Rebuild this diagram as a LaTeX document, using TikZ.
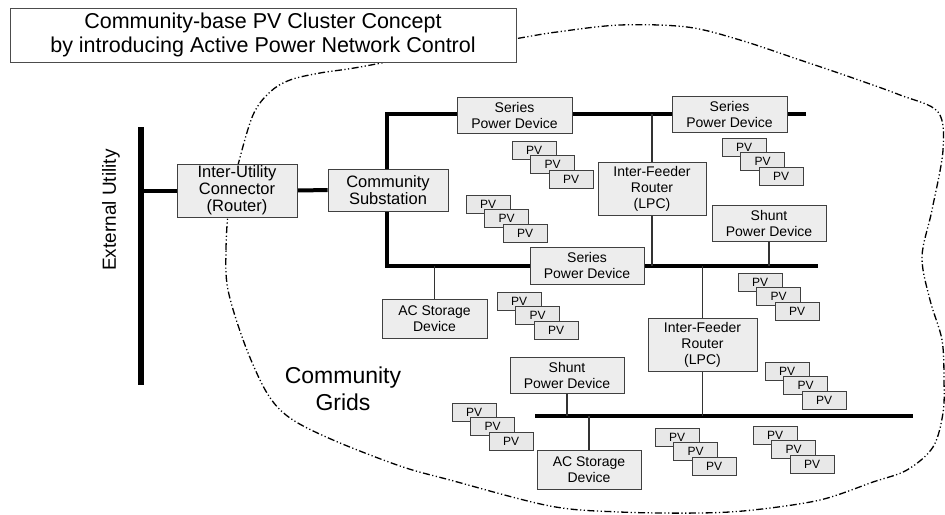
\documentclass[tikz,border=0pt]{standalone}
\usepackage{fontspec}
\setmainfont{Liberation Sans}
\usetikzlibrary{backgrounds}
\tikzstyle{dev}=[draw=black!75,fill=black!7,line width=0.9pt,align=center,inner sep=0pt,font=\fontsize{14}{16}\selectfont]
\tikzstyle{bigdev}=[dev,font=\fontsize{16.5}{17}\selectfont]
\tikzstyle{pv}=[draw=black!75,fill=black!9,line width=0.9pt,minimum width=44pt,minimum height=18pt,inner sep=0pt,font=\fontsize{12}{12}\selectfont]
\tikzstyle{bus}=[line width=4pt]
\tikzstyle{feeder}=[line width=1.1pt,black!80]
\tikzstyle{cloud}=[line width=1.3pt,dash pattern=on 7pt off 2.5pt on 1.2pt off 2.5pt on 1.2pt off 2.5pt]

\begin{document}
\begin{tikzpicture}[x=1pt,y=-1pt]
    \useasboundingbox (0,0) rectangle (945,514);
    \node[draw=black!70,fill=white,line width=0.8pt,minimum width=506pt,minimum height=54pt,align=center,font=\fontsize{21.5}{24}\selectfont] (title) at (263,35) {Community-base PV Cluster Concept\\by introducing Active Power Network Control};
    \node[rotate=90,font=\fontsize{19}{19}\selectfont] (ext) at (111,210) {External Utility};
    \node[align=center,font=\fontsize{23}{27}\selectfont] (grids) at (343,388.5) {Community\\Grids};

    \coordinate (extT) at (141,127);
    \coordinate (extB) at (141,385);
    \coordinate (busTL) at (387,114);
    \coordinate (busTR) at (806,114);
    \coordinate (busML) at (387,266);
    \coordinate (busMR) at (818,266);
    \coordinate (busLL) at (535,416);
    \coordinate (busLR) at (913,416);

    \node[bigdev,minimum width=120pt,minimum height=53pt] (iuc) at (237,190.5) {Inter-Utility\\Connector\\(Router)};
    \node[bigdev,minimum width=120pt,minimum height=42pt] (sub) at (388,190) {Community\\Substation};
    \node[dev,minimum width=115pt,minimum height=36pt] (spd1) at (514.5,115) {Series\\Power Device};
    \node[dev,minimum width=115pt,minimum height=36pt] (spd2) at (729.5,114) {Series\\Power Device};
    \node[dev,minimum width=108pt,minimum height=53pt] (ifr1) at (652,188.5) {Inter-Feeder\\Router\\(LPC)};
    \node[dev,minimum width=114pt,minimum height=36pt] (shunt1) at (769,223) {Shunt\\Power Device};
    \node[dev,minimum width=114pt,minimum height=37pt] (spd3) at (587,265.5) {Series\\Power Device};
    \node[dev,minimum width=105pt,minimum height=39pt] (acs1) at (434.5,318.5) {AC Storage\\Device};
    \node[dev,minimum width=109pt,minimum height=53pt] (ifr2) at (702.5,344.5) {Inter-Feeder\\Router\\(LPC)};
    \node[dev,minimum width=114pt,minimum height=36pt] (shunt2) at (567,375) {Shunt\\Power Device};
    \node[dev,minimum width=104pt,minimum height=39pt] (acs2) at (589,469.5) {AC Storage\\Device};

    % PV clusters
    \foreach \name/\x/\y in {g1/512/141,g2/466/195,g3/722/138,g4/738/273,g5/497/292,g6/765/362,g7/452/403,g8/655/428,g9/753/426}
        \foreach \i in {0,1,2}
            \node[pv] (\name-\i) at ({\x+22+18.5*\i},{\y+9+14.5*\i}) {PV};

    \begin{pgfonlayer}{background}
        \draw[cloud] plot[smooth cycle,tension=0.55] coordinates {(228,290) (226,250) (229,205) (238,165) (253,115) (270,92) (290,80) (320,73) (360,67) (450,50) (520,38) (557,32) (620,25) (687,27) (740,40) (800,60) (850,77) (900,95) (938,112) (943,150) (932,210) (922,257) (930,300) (942,340) (944,380) (943,413) (933,447) (907,470) (873,482) (820,500) (753,510) (700,513) (620,512) (550,506) (450,480) (400,466) (333,440) (290,418) (267,393) (245,345)};
        \draw[line width=6pt] (extT) -- (extB);
        \draw[bus] (iuc.west -| extT) -- (iuc.west);
        \draw[bus] (iuc) -- (sub);
        \draw[bus] (busTR) -- (busTL) -- (busML) -- (busMR);
        \draw[bus] (busLL) -- (busLR);
        \draw[feeder] (ifr1 |- busTL) -- (ifr1 |- busML);
        \draw[feeder] (ifr2 |- busML) -- (ifr2 |- busLL);
        \foreach \dev/\bus in {shunt1.south/busMR,acs1.north/busML,shunt2.south/busLL,acs2.north/busLL}
            \draw[feeder] (\dev) -- (\dev |- \bus);
    \end{pgfonlayer}
\end{tikzpicture}
\end{document}
